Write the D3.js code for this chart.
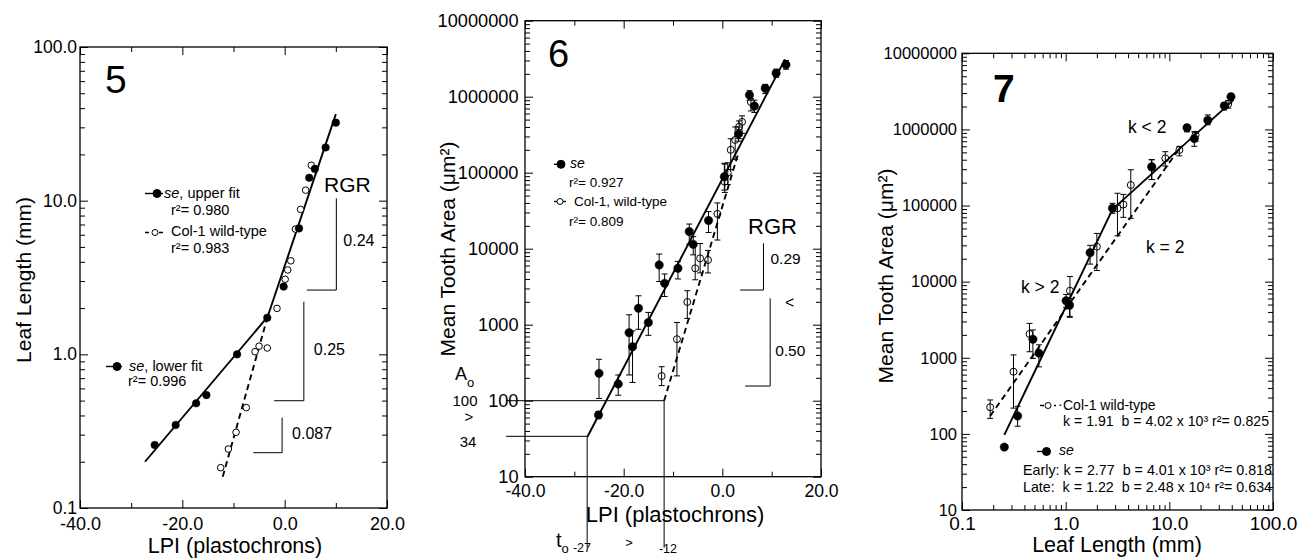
<!DOCTYPE html>
<html lang="en">
<head>
<meta charset="UTF-8">
<title>Leaf and tooth growth, figs 5-7</title>
<script src="https://d3js.org/d3.v7.min.js"></script>
<style>
  body { margin: 0; background: #fff; }
  svg text { font-family: "Liberation Sans", Arial, Helvetica, sans-serif; fill: #000; white-space: pre; }
  .axis text { font-family: "Liberation Sans", Arial, Helvetica, sans-serif; }
  .axis line { stroke: #000; stroke-width: 1px; }
  .frame { fill: none; stroke: #000; stroke-width: 1.3px; }
  .fit { fill: none; stroke: #000; stroke-width: 1.9px; }
  .dash { stroke-dasharray: 6, 4; }
  .bar { stroke: #000; stroke-width: 1px; }
  .guide { stroke: #000; stroke-width: 1px; fill: none; }
</style>
</head>
<body>
<div id="chart"></div>
<script>
// ---------- Fig 5 : leaf length vs LPI ----------
const f5SeLpi = [-25.4, -21.3, -17.3, -15.3, -9.3, -3.4, -0.2, 2.8, 4.8, 5.9, 8.0, 10.0];
const f5SeLen = [0.257, 0.347, 0.48, 0.543, 1.0, 1.73, 2.76, 6.6, 14.1, 16.1, 22.2, 32.2];
const f5ColLpi = [-12.5, -11.0, -9.5, -7.5, -5.8, -5.0, -3.4, -1.5, 0.1, 0.6, 1.2, 2.1, 3.1, 4.1, 5.2];
const f5ColLen = [0.183, 0.242, 0.311, 0.45, 1.04, 1.13, 1.1, 1.99, 3.08, 3.54, 4.06, 6.53, 8.78, 11.7, 17.0];
const f5LowerFit = [[-27.3, 0.2], [-3.35, 1.75]];
const f5UpperFit = [[-3.35, 1.75], [10.0, 36.6]];
const f5ColFit = [[-12.1, 0.16], [-3.35, 1.75]];
// RGR slope markers
const f5RgrX = [10.1, 3.75, -0.5];
const f5RgrTop = [10.35, 2.2, 0.387];
const f5RgrBot = [2.62, 0.499, 0.229];
const f5RgrFrom = [4.34, -2.05, -6.15];
const f5RgrLabel = ["0.24", "0.25", "0.087"];

// ---------- Fig 6 : tooth area vs LPI ----------
const f6SeLpi = [-25.0, -25.1, -21.1, -18.9, -18.2, -17.0, -15.0, -12.8, -11.7, -9.0, -6.7, -5.9, -2.8, 0.4, 3.3, 5.5, 6.5, 8.7, 10.9, 12.9];
const f6SeArea = [229, 65, 166, 785, 513, 1645, 1070, 6100, 3500, 5520, 16800, 11400, 23500, 88500, 324000, 1050000, 754000, 1290000, 2040000, 2630000];
const f6SeLo = [107, 58, 118, 218, 174, 870, 725, 3700, 2350, 4000, 11500, 8300, 16300, 59000, 260000, 900000, 620000, 1100000, 1800000, 2300000];
const f6SeHi = [351, 72, 218, 1350, 830, 2400, 1450, 8500, 4650, 6800, 21100, 14400, 30800, 133000, 400000, 1200000, 900000, 1450000, 2300000, 3000000];
const f6ColLpi = [-12.3, -9.2, -7.1, -5.5, -4.5, -2.9, -1.0, 0.5, 1.1, 1.7, 2.6, 3.4, 4.0, 5.8];
const f6ColArea = [211, 645, 1990, 5520, 7460, 7100, 28700, 76000, 100000, 200000, 270000, 403000, 466000, 850000];
const f6ColLo = [158, 212, 1210, 3900, 4800, 4800, 13000, 55000, 70000, 110000, 150000, 280000, 330000, 650000];
const f6ColHi = [280, 1070, 2800, 11700, 11700, 9500, 40000, 130000, 135000, 280000, 400000, 480000, 560000, 950000];
const f6SeFit = [[-27.4, 33], [12.7, 3100000]];
const f6ColFit = [[-11.8, 100], [3.3, 186000]];
const f6A0 = [34, 100];
const f6T0 = [-27.4, -11.8];
const f6RgrX = [8.34, 9.7];
const f6RgrTop = [11750, 2220];
const f6RgrBot = [2860, 156];
const f6RgrFrom = [3.61, 4.62];
const f6RgrLabel = ["0.29", "0.50"];

// ---------- Fig 7 : tooth area vs leaf length ----------
const f7SeLen = [0.256, 0.344, 0.483, 0.552, 1.01, 1.09, 1.72, 2.83, 6.76, 14.8, 17.4, 23.5, 33.9, 39.3];
const f7SeArea = [67, 172, 1750, 1150, 5600, 4900, 24000, 92000, 324000, 1050000, 757000, 1320000, 2040000, 2690000];
const f7SeLo = [62, 126, 980, 760, 4600, 3500, 17000, 79000, 219000, 930000, 600000, 1150000, 1800000, 2400000];
const f7SeHi = [72, 230, 2320, 1480, 6800, 6000, 30000, 107000, 400000, 1150000, 930000, 1550000, 2250000, 2950000];
const f7ColLen = [0.187, 0.314, 0.448, 1.10, 2.0, 3.16, 3.6, 4.25, 6.76, 9.14, 12.5, 17.9, 37];
const f7ColArea = [224, 656, 2055, 7600, 28800, 92000, 103000, 186000, 316000, 417000, 537000, 850000, 2160000];
const f7ColLo = [160, 218, 1200, 3400, 14000, 40000, 70000, 68000, 220000, 330000, 450000, 700000, 1900000];
const f7ColHi = [279, 1090, 2830, 11700, 43000, 145000, 140000, 295000, 400000, 510000, 600000, 930000, 2400000];
const f7EarlyFit = [[0.256, 97], [2.83, 89000]];
const f7LateFit = [[2.83, 89000], [40.8, 2370000]];
const f7ColFit = [[0.187, 172], [12.2, 537000]];

const svg = d3.select("#chart").append("svg")
    .attr("width", 1308)
    .attr("height", 558);

function txt(x, y, s, size, anchor) {
    return svg.append("text")
        .attr("x", x).attr("y", y)
        .attr("font-size", size)
        .attr("text-anchor", anchor || "start")
        .text(s);
}

function minorLog(lo, hi) {
    const out = [];
    for (let d = lo; d < hi * 0.999; d *= 10)
        for (let k = 2; k <= 9; k++) out.push(d * k);
    return out;
}

// frame with inward ticks on all four sides
function axes(p) {
    const x = p.x, y = p.y;
    const yb = y.range()[0], yt = y.range()[1];
    const xl = x.range()[0], xr = x.range()[1];
    const sides = [
        [d3.axisBottom, yb, true, "x"], [d3.axisTop, yt, false, "x"],
        [d3.axisLeft, xl, true, "y"], [d3.axisRight, xr, false, "y"]
    ];
    sides.forEach(([fn, pos, lab, dim]) => {
        const sc = dim === "x" ? x : y;
        const tr = dim === "x" ? `translate(0,${pos})` : `translate(${pos},0)`;
        const major = dim === "x" ? p.xMajor : p.yMajor;
        const minor = dim === "x" ? p.xMinor : p.yMinor;
        const g = svg.append("g").attr("class", "axis").attr("transform", tr)
            .call(fn(sc).tickValues(major).tickSizeInner(-8).tickSizeOuter(0)
                .tickPadding(dim === "x" ? p.padX : p.padY)
                .tickFormat(lab ? (dim === "x" ? p.xFmt : p.yFmt) : ""));
        g.selectAll("text").attr("font-size", dim === "x" ? p.xSize : p.ySize);
        svg.append("g").attr("class", "axis").attr("transform", tr)
            .call(fn(sc).tickValues(minor).tickSizeInner(-5).tickSizeOuter(0).tickFormat(""));
    });
    svg.selectAll(".axis .domain").remove();
    svg.append("rect").attr("class", "frame")
        .attr("x", xl).attr("y", yt)
        .attr("width", xr - xl).attr("height", yb - yt);
}

function fit(x, y, pts, dashed) {
    const line = d3.line().x(d => x(d[0])).y(d => y(d[1]));
    svg.append("path").attr("class", dashed ? "fit dash" : "fit").attr("d", line(pts));
}

function bars(x, y, xs, lo, hi) {
    xs.forEach((v, i) => {
        const px = x(v);
        svg.append("line").attr("class", "bar")
            .attr("x1", px).attr("x2", px).attr("y1", y(lo[i])).attr("y2", y(hi[i]));
        [lo[i], hi[i]].forEach(e => {
            svg.append("line").attr("class", "bar")
                .attr("x1", px - 3).attr("x2", px + 3).attr("y1", y(e)).attr("y2", y(e));
        });
    });
}

function dots(x, y, xs, ys, filled, r, fillOpen) {
    svg.selectAll(null)
        .data(xs.map((v, i) => [v, ys[i]]))
        .enter()
        .append("circle")
        .attr("cx", d => x(d[0]))
        .attr("cy", d => y(d[1]))
        .attr("r", r)
        .style("fill", filled ? "#000" : (fillOpen || "none"))
        .style("stroke", "#000")
        .style("stroke-width", filled ? 0.5 : 1);
}

function rgr(x, y, vx, top, bot, from) {
    vx.forEach((v, i) => {
        svg.append("path").attr("class", "guide")
            .attr("d", `M${x(v)},${y(top[i])}L${x(v)},${y(bot[i])}L${x(from[i])},${y(bot[i])}`);
    });
}

function legendMark(x0, x1, yy, filled, dashed) {
    svg.append("line").attr("class", "guide")
        .attr("x1", x0).attr("x2", x1).attr("y1", yy).attr("y2", yy)
        .style("stroke-dasharray", dashed ? "4,3" : null)
        .style("stroke-width", 1.4);
    svg.append("circle").attr("cx", (x0 + x1) / 2 + (filled ? 3 : 0)).attr("cy", yy)
        .attr("r", filled ? 4 : 3)
        .style("fill", filled ? "#000" : "#fff").style("stroke", "#000");
}

// ================= Fig 5 =================
const x5 = d3.scaleLinear().domain([-40, 20]).range([80, 387]);
const y5 = d3.scaleLog().domain([0.1, 100]).range([508, 47]);
axes({
    x: x5, y: y5,
    xMajor: [-40, -20, 0, 20], xMinor: [-30, -10, 10],
    yMajor: [0.1, 1, 10, 100], yMinor: minorLog(0.1, 100),
    xFmt: d => d.toFixed(1), yFmt: d => d.toFixed(1),
    padX: 9, padY: 3, xSize: 18, ySize: 17.5
});
fit(x5, y5, f5LowerFit, false);
fit(x5, y5, f5UpperFit, false);
fit(x5, y5, f5ColFit, true);
dots(x5, y5, f5ColLpi, f5ColLen, false, 3.3, "#fff");
dots(x5, y5, f5SeLpi, f5SeLen, true, 3.8);
rgr(x5, y5, f5RgrX, f5RgrTop, f5RgrBot, f5RgrFrom);
f5RgrLabel.forEach((s, i) => {
    const mid = (y5(f5RgrTop[i]) + y5(f5RgrBot[i])) / 2;
    txt(x5(f5RgrX[i]) + (i ? 10 : 7), mid + (i === 0 ? 2 : 4), s, 16);
});
txt(324, 192, "RGR", 21);
txt(105, 93, "5", 39);
txt(31, 280, "Leaf Length (mm)", 21, "middle").attr("transform", "rotate(-90,31,280)");
txt(235, 553, "LPI (plastochrons)", 21.5, "middle");
// legend
legendMark(145, 163, 193.5, true, false);
txt(164, 198, "", 14.5).call(t => {
    t.append("tspan").style("font-style", "italic").text("se");
    t.append("tspan").text(", upper fit");
});
txt(171, 215, "r²= 0.980", 14.5);
legendMark(145, 165, 232.5, false, true);
txt(171, 236, "Col-1 wild-type", 14.5);
txt(171, 253, "r²= 0.983", 14.5);
legendMark(106, 122, 366.5, true, false);
txt(129, 371, "", 14.5).call(t => {
    t.append("tspan").style("font-style", "italic").text("se");
    t.append("tspan").text(", lower fit");
});
txt(128, 386, "r²= 0.996", 14.5);

// ================= Fig 6 =================
const x6 = d3.scaleLinear().domain([-40, 20]).range([525, 821]);
const y6 = d3.scaleLog().domain([10, 1e7]).range([476.7, 20.7]);
axes({
    x: x6, y: y6,
    xMajor: [-40, -20, 0, 20], xMinor: [-30, -10, 10],
    yMajor: [10, 100, 1e3, 1e4, 1e5, 1e6, 1e7], yMinor: minorLog(10, 1e7),
    xFmt: d => d.toFixed(1), yFmt: d => String(Math.round(d)),
    padX: 8, padY: 6.5, xSize: 17.6, ySize: 18.2
});
// A0 / t0 guides
f6A0.forEach((a, i) => {
    svg.append("line").attr("class", "guide")
        .attr("x1", x6.range()[0] - 19).attr("x2", x6(f6T0[i]))
        .attr("y1", y6(a)).attr("y2", y6(a));
    svg.append("line").attr("class", "guide")
        .attr("x1", x6(f6T0[i])).attr("x2", x6(f6T0[i]))
        .attr("y1", y6(a)).attr("y2", y6.range()[0] + 71);
});
fit(x6, y6, f6SeFit, false);
fit(x6, y6, f6ColFit, true);
bars(x6, y6, f6ColLpi, f6ColLo, f6ColHi);
bars(x6, y6, f6SeLpi, f6SeLo, f6SeHi);
dots(x6, y6, f6ColLpi, f6ColArea, false, 3.5);
dots(x6, y6, f6SeLpi, f6SeArea, true, 4.2);
rgr(x6, y6, f6RgrX, f6RgrTop, f6RgrBot, f6RgrFrom);
txt(x6(f6RgrX[0]) + 7, 264, f6RgrLabel[0], 15.5);
txt(x6(f6RgrX[1]) + 5, 356, f6RgrLabel[1], 15.5);
txt(785, 308, "<", 16);
txt(748, 234, "RGR", 22);
txt(548, 67, "6", 38);
txt(455, 249, "Mean Tooth Area (μm²)", 21, "middle").attr("transform", "rotate(-90,455,249)");
txt(675, 522, "LPI (plastochrons)", 22, "middle");
// A0 and t0 annotations
txt(455, 380, "A", 18).append("tspan").attr("font-size", 13).attr("dy", 7).text("o");
txt(465, 406, "100", 15, "middle");
txt(469, 422, ">", 15, "middle");
txt(468, 447, "34", 15, "middle");
txt(556, 547, "t", 20).append("tspan").attr("font-size", 13).attr("dy", 6).text("o");
txt(582, 552, "-27", 12.5, "middle");
txt(629, 547, ">", 13, "middle");
txt(668, 553, "-12", 12.5, "middle");
// legend
legendMark(554, 562, 164.3, true, false);
txt(570, 168, "se", 14).style("font-style", "italic");
txt(569, 187, "r²= 0.927", 13.5);
legendMark(554, 566, 201.5, false, false);
txt(574, 206, "Col-1, wild-type", 13.5);
txt(569, 226, "r²= 0.809", 13.5);

// ================= Fig 7 =================
const x7 = d3.scaleLog().domain([0.1, 100]).range([962, 1273]);
const y7 = d3.scaleLog().domain([10, 1e7]).range([510, 53.3]);
axes({
    x: x7, y: y7,
    xMajor: [0.1, 1, 10, 100], xMinor: minorLog(0.1, 100),
    yMajor: [10, 100, 1e3, 1e4, 1e5, 1e6, 1e7], yMinor: minorLog(10, 1e7),
    xFmt: d => d.toFixed(1), yFmt: d => String(Math.round(d)),
    padX: 7, padY: 5, xSize: 19, ySize: 16.5
});
fit(x7, y7, f7EarlyFit, false);
fit(x7, y7, f7LateFit, false);
fit(x7, y7, f7ColFit, true);
bars(x7, y7, f7ColLen, f7ColLo, f7ColHi);
bars(x7, y7, f7SeLen, f7SeLo, f7SeHi);
dots(x7, y7, f7ColLen, f7ColArea, false, 3.5);
dots(x7, y7, f7SeLen, f7SeArea, true, 4.2);
txt(993, 102, "7", 39).style("font-weight", "bold");
txt(1128, 133, "k < 2", 17.5);
txt(1146, 253, "k = 2", 17.5);
txt(1021, 293, "k > 2", 17.5);
txt(893, 276, "Mean Tooth Area (μm²)", 21, "middle").attr("transform", "rotate(-90,893,276)");
txt(1117, 552, "Leaf Length (mm)", 21.5, "middle");
// legend
legendMark(1040, 1056, 405.5, false, true);
txt(1058, 409, "·", 14);
txt(1063, 410, "Col-1 wild-type", 14);
txt(1063, 426, "k = 1.91  b = 4.02 x 10³ r²= 0.825", 14.5)
    .attr("textLength", 206).attr("lengthAdjust", "spacingAndGlyphs");
legendMark(1037, 1050, 451.5, true, false);
txt(1059, 455, "se", 14).style("font-style", "italic");
txt(1023, 475, "Early: k = 2.77  b = 4.01 x 10³ r²= 0.818", 14.5)
    .attr("textLength", 249).attr("lengthAdjust", "spacingAndGlyphs");
txt(1023, 491.5, "Late:  k = 1.22  b = 2.48 x 10⁴ r²= 0.634", 14.5)
    .attr("textLength", 249).attr("lengthAdjust", "spacingAndGlyphs");
</script>
</body>
</html>
